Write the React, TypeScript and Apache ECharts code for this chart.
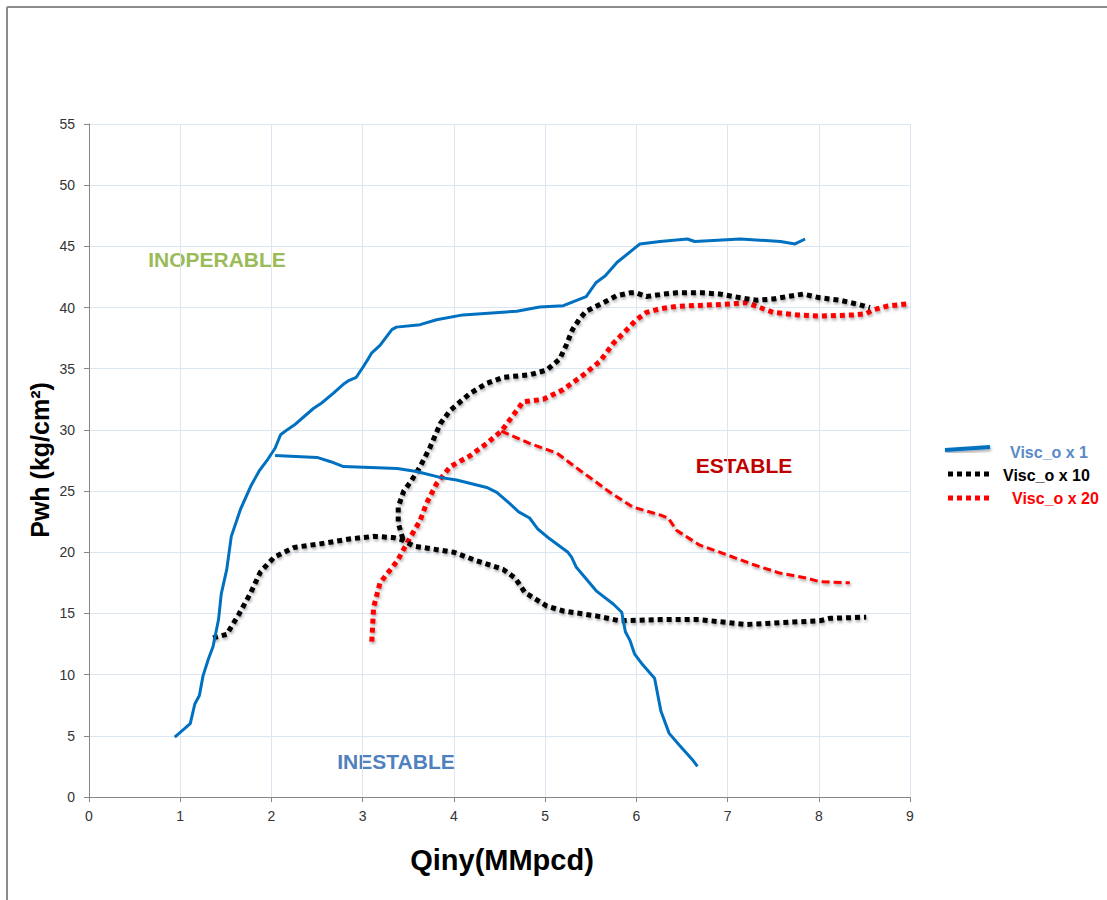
import React, { useEffect, useRef } from "react";
import * as echarts from "echarts";

const xTicks = [0, 1, 2, 3, 4, 5, 6, 7, 8, 9];
const yTicks = [0, 5, 10, 15, 20, 25, 30, 35, 40, 45, 50, 55];

const seriesNames = ["Visc_o x 1", "Visc_o x 10", "Visc_o x 20"];

const blueUpper: [number, number][] = [
  [0.94, 4.9], [1.05, 5.6], [1.11, 6.0], [1.16, 7.6], [1.21, 8.3], [1.25, 9.9],
  [1.31, 11.3], [1.36, 12.3], [1.42, 14.5], [1.45, 16.6], [1.51, 18.6], [1.56, 21.3],
  [1.66, 23.5], [1.78, 25.5], [1.87, 26.7], [1.96, 27.6], [2.04, 28.5], [2.1, 29.6],
  [2.17, 30.0], [2.25, 30.4], [2.39, 31.3], [2.46, 31.75], [2.55, 32.2], [2.68, 33.0],
  [2.8, 33.8], [2.84, 34.0], [2.93, 34.3], [3.01, 35.2], [3.06, 35.8], [3.1, 36.3],
  [3.19, 36.9], [3.32, 38.2], [3.37, 38.4], [3.63, 38.6], [3.81, 39.0], [4.1, 39.4],
  [4.69, 39.7], [4.94, 40.05], [5.2, 40.15], [5.45, 40.9], [5.56, 42.05], [5.66, 42.6],
  [5.79, 43.7], [6.04, 45.2], [6.26, 45.4], [6.56, 45.6], [6.64, 45.4], [7.14, 45.6],
  [7.58, 45.4], [7.74, 45.2], [7.85, 45.6],
];

const blueLower: [number, number][] = [
  [2.04, 27.9], [2.5, 27.75], [2.65, 27.4], [2.79, 27.0], [3.38, 26.85], [3.59, 26.6],
  [3.86, 26.1], [4.03, 25.9], [4.36, 25.3], [4.47, 24.9], [4.61, 24.0], [4.71, 23.3],
  [4.83, 22.8], [4.92, 21.9], [5.05, 21.1], [5.25, 20.0], [5.29, 19.6], [5.34, 18.8],
  [5.56, 16.85], [5.75, 15.75], [5.84, 15.1], [5.88, 13.5], [5.93, 12.8], [5.98, 11.7],
  [6.07, 10.8], [6.2, 9.7], [6.27, 7.0], [6.36, 5.2], [6.47, 4.25], [6.62, 3.0], [6.67, 2.5],
];

const blackUpper: [number, number][] = [
  [3.44, 21.1], [3.39, 22.4], [3.39, 23.7], [3.45, 25.0], [3.53, 25.8], [3.63, 27.0],
  [3.74, 28.6], [3.85, 30.5], [3.96, 31.6], [4.18, 33.0], [4.36, 33.8], [4.54, 34.3],
  [4.83, 34.5], [5.02, 34.9], [5.16, 35.8], [5.23, 36.9], [5.3, 38.2], [5.38, 39.1],
  [5.45, 39.7], [5.53, 40.0], [5.64, 40.4], [5.78, 40.96], [5.93, 41.2], [6.0, 41.2],
  [6.11, 40.9], [6.3, 41.1], [6.44, 41.2], [6.73, 41.2], [6.92, 41.1], [7.14, 40.8],
  [7.32, 40.6], [7.5, 40.7], [7.65, 40.9], [7.83, 41.1], [8.01, 40.8], [8.23, 40.6],
  [8.41, 40.3], [8.56, 40.0],
];

const blackLower: [number, number][] = [
  [1.36, 13.0], [1.51, 13.3], [1.64, 14.9], [1.77, 16.65], [1.88, 18.4], [2.03, 19.6],
  [2.25, 20.4], [2.54, 20.7], [2.87, 21.1], [3.12, 21.3], [3.34, 21.2], [3.44, 21.0],
  [3.56, 20.5], [3.74, 20.3], [4.0, 20.0], [4.25, 19.3], [4.54, 18.6], [4.67, 17.9],
  [4.78, 16.7], [5.02, 15.6], [5.2, 15.2], [5.56, 14.8], [5.82, 14.4], [6.26, 14.5],
  [6.69, 14.5], [7.2, 14.1], [7.72, 14.3], [8.01, 14.4], [8.12, 14.6], [8.52, 14.7],
];

const redUpper: [number, number][] = [
  [3.1, 12.7], [3.12, 15.5], [3.19, 17.5], [3.38, 19.3], [3.52, 21.2], [3.63, 22.6],
  [3.7, 24.0], [3.81, 25.6], [3.96, 27.0], [4.18, 27.9], [4.36, 28.9], [4.52, 29.9],
  [4.61, 30.8], [4.76, 32.3], [4.98, 32.5], [5.2, 33.3], [5.42, 34.5], [5.6, 35.6],
  [5.75, 37.1], [5.89, 38.15], [6.0, 39.0], [6.11, 39.6], [6.26, 39.9], [6.44, 40.1],
  [6.77, 40.2], [7.06, 40.3], [7.21, 40.4], [7.32, 40.1], [7.5, 39.6], [7.76, 39.4],
  [8.01, 39.3], [8.38, 39.4], [8.52, 39.5], [8.59, 39.8], [8.74, 40.1], [8.96, 40.3],
];

const redLower: [number, number][] = [
  [4.52, 29.9], [4.83, 28.9], [5.13, 28.1], [5.38, 26.7], [5.53, 25.9], [5.71, 24.9],
  [5.96, 23.7], [6.26, 23.05], [6.35, 22.8], [6.44, 21.8], [6.69, 20.6], [6.99, 19.8],
  [7.28, 19.0], [7.57, 18.3], [7.86, 17.9], [8.01, 17.6], [8.34, 17.5],
];

const BLUE = "#0070c0";
const BLACK = "#000000";
const RED = "#ff0000";

const shadow = {
  shadowColor: "rgba(0,0,0,0.35)",
  shadowBlur: 3,
  shadowOffsetX: 1,
  shadowOffsetY: 2,
};

function lineSeries(name: string, data: [number, number][], lineStyle: any, z: number) {
  return {
    name,
    type: "line",
    data,
    symbol: "none",
    showSymbol: false,
    smooth: false,
    z,
    lineStyle,
    emphasis: { disabled: true },
  };
}

export default function App() {
  const ref = useRef<HTMLDivElement>(null);

  useEffect(() => {
    if (!ref.current) return;
    const chart = echarts.init(ref.current, undefined, { renderer: "svg" });
    const labelFont = "Liberation Sans, Arial, sans-serif";

    const option: any = {
      animation: false,
      backgroundColor: "#ffffff",
      grid: { left: 89, top: 124, width: 821, height: 673, containLabel: false },
      xAxis: {
        type: "value",
        min: xTicks[0],
        max: xTicks[xTicks.length - 1],
        interval: 1,
        axisLine: { show: true, onZero: false, lineStyle: { color: "#868686", width: 1 } },
        axisTick: { show: true, length: 5, lineStyle: { color: "#868686" } },
        axisLabel: { color: "#333333", fontSize: 14, fontFamily: labelFont, margin: 12 },
        splitLine: { show: true, lineStyle: { color: "#dce6f2", width: 1 } },
      },
      yAxis: {
        type: "value",
        min: yTicks[0],
        max: yTicks[yTicks.length - 1],
        interval: 5,
        axisLine: { show: true, onZero: false, lineStyle: { color: "#868686", width: 1 } },
        axisTick: { show: true, length: 5, lineStyle: { color: "#868686" } },
        axisLabel: { color: "#333333", fontSize: 14, fontFamily: labelFont, margin: 14 },
        splitLine: { show: true, lineStyle: { color: "#dce6f2", width: 1 } },
      },
      series: [
        lineSeries(seriesNames[0], blueUpper, { color: BLUE, width: 3 }, 5),
        lineSeries(seriesNames[0], blueLower, { color: BLUE, width: 3 }, 5),
        lineSeries(seriesNames[1], blackUpper, { color: BLACK, width: 5, type: [5, 4], cap: "butt", ...shadow }, 4),
        lineSeries(seriesNames[1], blackLower, { color: BLACK, width: 5, type: [5, 4], cap: "butt", ...shadow }, 4),
        lineSeries(seriesNames[2], redUpper, { color: RED, width: 5, type: [5, 4], cap: "butt", ...shadow }, 3),
        lineSeries(seriesNames[2], redLower, { color: RED, width: 3, type: [8, 4], cap: "butt", ...shadow }, 3),
      ],
      graphic: [
        // outer frame (left and top edges)
        { type: "line", shape: { x1: 7, y1: 7, x2: 1107, y2: 7 }, style: { stroke: "#8c8c8c", lineWidth: 2 } },
        { type: "line", shape: { x1: 7, y1: 7, x2: 7, y2: 900 }, style: { stroke: "#8c8c8c", lineWidth: 2 } },
        // axis titles
        {
          type: "text", x: 40, y: 460, rotation: Math.PI / 2,
          style: {
            text: "Pwh (kg/cm²)", fill: "#000", font: `bold 25px ${labelFont}`,
            align: "center", verticalAlign: "middle",
          },
        },
        {
          type: "text", x: 502, y: 860,
          style: {
            text: "Qiny(MMpcd)", fill: "#000", font: `bold 29px ${labelFont}`,
            align: "center", verticalAlign: "middle",
          },
        },
        // region labels
        {
          type: "text", x: 217, y: 259,
          style: { text: "INOPERABLE", fill: "#9bbb59", font: `bold 21px ${labelFont}`, align: "center", verticalAlign: "middle" },
        },
        {
          type: "text", x: 744, y: 465,
          style: { text: "ESTABLE", fill: "#c00000", font: `bold 21px ${labelFont}`, align: "center", verticalAlign: "middle" },
        },
        {
          type: "text", x: 396, y: 761,
          style: { text: "INESTABLE", fill: "#4f81bd", font: `bold 21px ${labelFont}`, align: "center", verticalAlign: "middle" },
        },
        // legend
        { type: "line", shape: { x1: 945, y1: 450, x2: 990, y2: 447 }, style: { stroke: BLUE, lineWidth: 4, ...shadow } },
        { type: "line", shape: { x1: 948, y1: 474, x2: 990, y2: 474 }, style: { stroke: BLACK, lineWidth: 5, lineDash: [5, 4] } },
        { type: "line", shape: { x1: 948, y1: 498, x2: 990, y2: 498 }, style: { stroke: RED, lineWidth: 5, lineDash: [5, 4] } },
        {
          type: "text", x: 1010, y: 452,
          style: { text: seriesNames[0], fill: "#5a8ac6", font: `bold 16px ${labelFont}`, verticalAlign: "middle" },
        },
        {
          type: "text", x: 1003, y: 475,
          style: { text: seriesNames[1], fill: "#000", font: `bold 16px ${labelFont}`, verticalAlign: "middle" },
        },
        {
          type: "text", x: 1012, y: 498,
          style: { text: seriesNames[2], fill: RED, font: `bold 16px ${labelFont}`, verticalAlign: "middle" },
        },
      ],
    };

    chart.setOption(option);
    return () => chart.dispose();
  }, []);

  return (
    <div
      ref={ref}
      style={{ position: "absolute", left: 0, top: 0, width: 1107, height: 900 }}
    />
  );
}
